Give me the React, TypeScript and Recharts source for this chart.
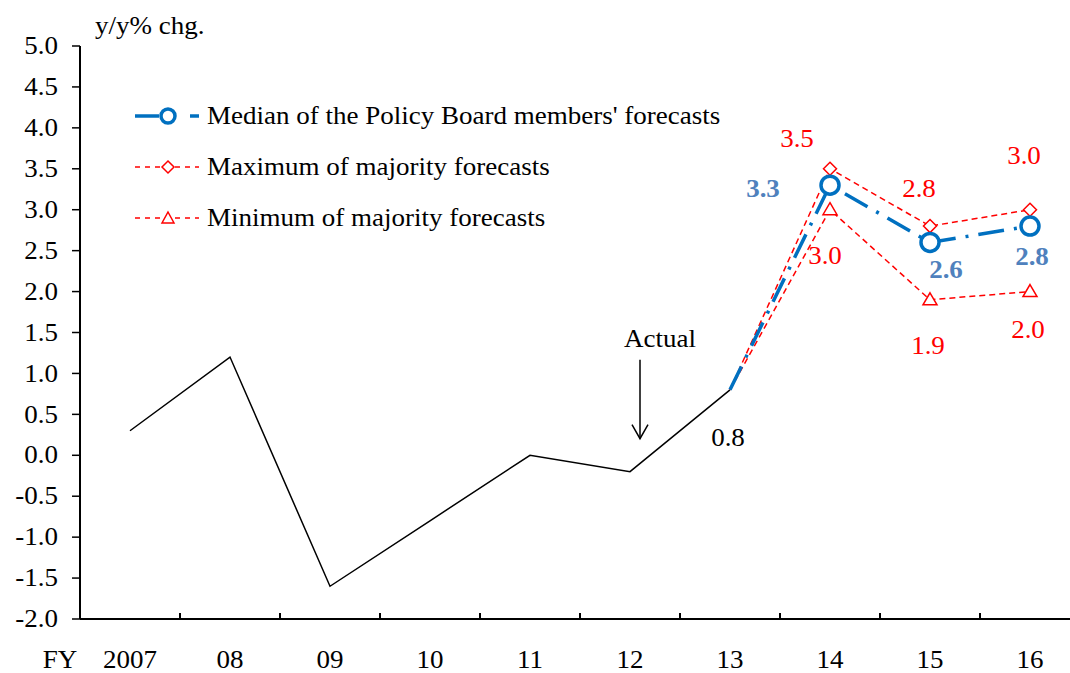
import React from "react";
import {
  LineChart,
  Line,
  XAxis,
  YAxis,
  Legend,
  LabelList,
  ReferenceDot
} from "recharts";

const years = ["2007", "08", "09", "10", "11", "12", "13", "14", "15", "16"];
const actual = [0.3, 1.2, -1.6, -0.8, 0.0, -0.2, 0.8, null, null, null];
const median = [null, null, null, null, null, null, 0.8, 3.3, 2.6, 2.8];
const maximum = [null, null, null, null, null, null, 0.8, 3.5, 2.8, 3.0];
const minimum = [null, null, null, null, null, null, 0.8, 3.0, 1.9, 2.0];
const yTicks = [-2, -1.5, -1, -0.5, 0, 0.5, 1, 1.5, 2, 2.5, 3, 3.5, 4, 4.5, 5];

const data = years.map((fy, i) => ({
  fy,
  actual: actual[i],
  median: median[i],
  maximum: maximum[i],
  minimum: minimum[i]
}));

const FONT = "'Liberation Serif', 'Times New Roman', serif";
const FS = 25;
const SX = 1.08;
const BLUE = "#0070C0";
const LABEL_BLUE = "#4F81BD";
const RED = "#FF0000";

// label placement per category index (styling only)
const medianOffsets: Record<number, [number, number]> = { 7: [-67, 4], 8: [16, 27], 9: [2, 31] };
const maxOffsets: Record<number, [number, number]> = { 7: [-33, -30], 8: [-11, -37], 9: [-6, -54] };
const minOffsets: Record<number, [number, number]> = { 7: [-5, 46], 8: [-2, 46], 9: [-2, 38] };
const actualOffsets: Record<number, [number, number]> = { 6: [-2, 48] };

// wide serif text like the original
function T({ x, y, anchor = "middle", color = "#000", bold = false, children }: any) {
  return (
    <text
      transform={`translate(${x},${y}) scale(${SX},1)`}
      x={0}
      y={0}
      textAnchor={anchor}
      dominantBaseline="central"
      fontFamily={FONT}
      fontSize={FS}
      fontWeight={bold ? "bold" : "normal"}
      fill={color}
    >
      {children}
    </text>
  );
}

function makeLabel(offsets: Record<number, [number, number]>, color: string, bold = false) {
  return (props: any) => {
    const { x, y, value, index } = props;
    const off = offsets[index];
    if (!off || value == null) return null;
    return (
      <T x={x + off[0]} y={y + off[1]} color={color} bold={bold}>
        {Number(value).toFixed(1)}
      </T>
    );
  };
}

const CircleDot = (props: any) => {
  const { cx, cy, index, value } = props;
  if (index < 7 || value == null) return null;
  return <circle cx={cx} cy={cy} r={9} fill="#fff" stroke={BLUE} strokeWidth={3.5} />;
};

const DiamondDot = (props: any) => {
  const { cx, cy, index, value } = props;
  if (index < 7 || value == null) return null;
  const s = 6.5;
  return (
    <path
      d={`M${cx},${cy - s} L${cx + s},${cy} L${cx},${cy + s} L${cx - s},${cy} Z`}
      fill="#fff"
      stroke={RED}
      strokeWidth={1.5}
    />
  );
};

const TriangleDot = (props: any) => {
  const { cx, cy, index, value } = props;
  if (index < 7 || value == null) return null;
  return (
    <path
      d={`M${cx},${cy - 7} L${cx + 7},${cy + 5} L${cx - 7},${cy + 5} Z`}
      fill="#fff"
      stroke={RED}
      strokeWidth={1.5}
    />
  );
};

const XTick = (props: any) => {
  const { x, payload, index } = props;
  return (
    <g>
      <line x1={x + 50} y1={619} x2={x + 50} y2={613} stroke="#000" strokeWidth={2} />
      <T x={x} y={660}>{payload.value}</T>
      {index === 0 && <T x={x - 70} y={660}>FY</T>}
    </g>
  );
};

const YTick = (props: any) => {
  const { x, y, payload } = props;
  return (
    <T x={x - 1} y={y} anchor="end">
      {Number(payload.value).toFixed(1)}
    </T>
  );
};

const legendRows = [
  { name: "Median of the Policy Board members' forecasts", kind: "median" },
  { name: "Maximum of majority forecasts", kind: "max" },
  { name: "Minimum of majority forecasts", kind: "min" }
];

const LegendContent = () => (
  <div style={{ fontFamily: FONT, fontSize: FS, color: "#000", whiteSpace: "nowrap" }}>
    {legendRows.map((r) => (
      <div key={r.kind} style={{ display: "flex", alignItems: "center", height: 51 }}>
        <svg width={72} height={24}>
          {r.kind === "median" ? (
            <g>
              <line x1={0} y1={12} x2={24} y2={12} stroke={BLUE} strokeWidth={3.5} />
              <circle cx={33} cy={12} r={7} fill="#fff" stroke={BLUE} strokeWidth={3.5} />
              <line x1={55} y1={12} x2={64} y2={12} stroke={BLUE} strokeWidth={3.5} />
            </g>
          ) : (
            <g>
              <line x1={0} y1={12} x2={64} y2={12} stroke={RED} strokeWidth={1.5} strokeDasharray="5 5" />
              {r.kind === "max" ? (
                <path d="M33,6 L39,12 L33,18 L27,12 Z" fill="#fff" stroke={RED} strokeWidth={1.5} />
              ) : (
                <path d="M33,6 L39,17 L27,17 Z" fill="#fff" stroke={RED} strokeWidth={1.5} />
              )}
            </g>
          )}
        </svg>
        <span style={{ display: "inline-block", transform: `scaleX(${SX})`, transformOrigin: "left center" }}>
          {r.name}
        </span>
      </div>
    ))}
  </div>
);

const ActualNote = (props: any) => {
  const { cx, cy } = props;
  return (
    <g>
      <T x={cx + 30} y={cy - 133}>Actual</T>
      <line x1={cx + 10} y1={cy - 112} x2={cx + 10} y2={cy - 33} stroke="#000" strokeWidth={1.5} />
      <path d={`M${cx + 2},${cy - 47} L${cx + 10},${cy - 33} L${cx + 18},${cy - 47}`} fill="none" stroke="#000" strokeWidth={1.5} />
    </g>
  );
};

export default function App() {
  return (
    <div style={{ position: "absolute", left: 0, top: 0, width: 1070, height: 673, overflow: "hidden", background: "#fff" }}>
      <LineChart width={1080} height={673} data={data} margin={{ top: 46, right: 0, bottom: 0, left: 0 }}>
        <XAxis
          dataKey="fy"
          scale="band"
          height={54}
          tickLine={false}
          axisLine={{ stroke: "#000", strokeWidth: 2 }}
          tick={<XTick />}
          interval={0}
        />
        <YAxis
          width={80}
          domain={[-2, 5]}
          ticks={yTicks}
          interval={0}
          tickSize={8}
          tickMargin={13}
          axisLine={{ stroke: "#000", strokeWidth: 2 }}
          tickLine={{ stroke: "#000", strokeWidth: 1.5 }}
          tick={<YTick />}
        />
        <Legend
          layout="vertical"
          align="center"
          verticalAlign="middle"
          content={<LegendContent />}
          wrapperStyle={{ left: 135, top: 90, width: 760 }}
        />
        <Line
          type="linear"
          dataKey="actual"
          stroke="#000"
          strokeWidth={1.5}
          dot={false}
          isAnimationActive={false}
          legendType="none"
        >
          <LabelList dataKey="actual" content={makeLabel(actualOffsets, "#000")} />
        </Line>
        <Line
          type="linear"
          dataKey="maximum"
          stroke={RED}
          strokeWidth={1.5}
          strokeDasharray="6 4"
          dot={<DiamondDot />}
          isAnimationActive={false}
        >
          <LabelList dataKey="maximum" content={makeLabel(maxOffsets, RED)} />
        </Line>
        <Line
          type="linear"
          dataKey="minimum"
          stroke={RED}
          strokeWidth={1.5}
          strokeDasharray="6 4"
          dot={<TriangleDot />}
          isAnimationActive={false}
        >
          <LabelList dataKey="minimum" content={makeLabel(minOffsets, RED)} />
        </Line>
        <Line
          type="linear"
          dataKey="median"
          stroke={BLUE}
          strokeWidth={3.5}
          strokeDasharray="26 10 3 10"
          dot={<CircleDot />}
          isAnimationActive={false}
        >
          <LabelList dataKey="median" content={makeLabel(medianOffsets, LABEL_BLUE, true)} />
        </Line>
        <ReferenceDot x="12" y={-0.2} r={0} shape={<ActualNote />} />
      </LineChart>
      <div
        style={{
          position: "absolute",
          left: 95,
          top: 12,
          fontFamily: FONT,
          fontSize: FS,
          color: "#000",
          transform: `scaleX(${SX})`,
          transformOrigin: "left top",
          whiteSpace: "nowrap"
        }}
      >
        y/y% chg.
      </div>
    </div>
  );
}
